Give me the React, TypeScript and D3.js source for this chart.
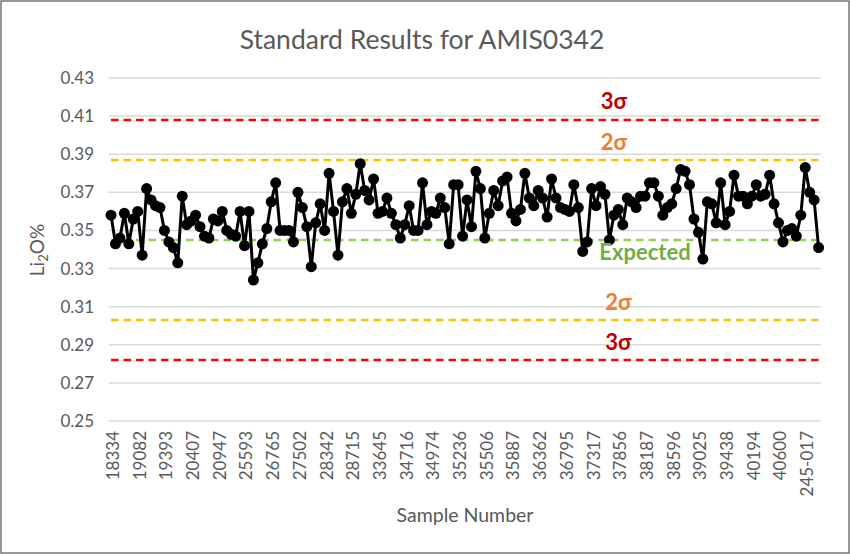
import * as d3 from 'd3';

// sample numbers shown on the category axis (every 6th sample)
const sampleLabels = [
  '18334', '19082', '19393', '20407', '20947', '25593', '26765', '27502', '28342',
  '28715', '33645', '34716', '34974', '35236', '35506', '35887', '36362', '36795',
  '37317', '37856', '38187', '38596', '39025', '39438', '40194', '40600', '245-017',
];
const labelEvery = 6;

// Li2O % results, in sample order
const results = [
  0.358, 0.343, 0.346, 0.359, 0.343, 0.356, 0.360, 0.337, 0.372, 0.366,
  0.363, 0.362, 0.350, 0.344, 0.341, 0.333, 0.368, 0.353, 0.355, 0.358,
  0.352, 0.347, 0.346, 0.356, 0.355, 0.360, 0.350, 0.348, 0.347, 0.360,
  0.342, 0.360, 0.324, 0.333, 0.343, 0.351, 0.365, 0.375, 0.350, 0.350,
  0.350, 0.344, 0.370, 0.362, 0.352, 0.331, 0.354, 0.364, 0.350, 0.380,
  0.360, 0.337, 0.365, 0.372, 0.359, 0.369, 0.385, 0.371, 0.366, 0.377,
  0.359, 0.360, 0.367, 0.359, 0.353, 0.346, 0.353, 0.363, 0.350, 0.350,
  0.375, 0.353, 0.360, 0.359, 0.367, 0.362, 0.343, 0.374, 0.374, 0.347,
  0.366, 0.352, 0.381, 0.372, 0.346, 0.359, 0.371, 0.363, 0.376, 0.378,
  0.359, 0.355, 0.361, 0.380, 0.367, 0.363, 0.371, 0.367, 0.357, 0.377,
  0.367, 0.362, 0.361, 0.360, 0.374, 0.362, 0.339, 0.344, 0.372, 0.363,
  0.373, 0.369, 0.345, 0.358, 0.361, 0.353, 0.367, 0.365, 0.362, 0.368,
  0.368, 0.375, 0.375, 0.368, 0.358, 0.362, 0.364, 0.372, 0.382, 0.381,
  0.374, 0.356, 0.349, 0.335, 0.365, 0.364, 0.354, 0.375, 0.353, 0.360,
  0.379, 0.368, 0.368, 0.364, 0.368, 0.374, 0.368, 0.369, 0.379, 0.364,
  0.354, 0.344, 0.350, 0.351, 0.347, 0.358, 0.383, 0.370, 0.366, 0.341,
];

const yTickValues = [0.25, 0.27, 0.29, 0.31, 0.33, 0.35, 0.37, 0.39, 0.41, 0.43];
const expectedValue = 0.345;
const sigma2Values = [0.387, 0.303];
const sigma3Values = [0.408, 0.282];

const W = 850;
const H = 554;
const plot = { left: 108.8, right: 820.8, top: 78, bottom: 421 };
const FONT = "Lato, 'Open Sans', sans-serif";
const GREY = '#595959';

export default function App() {
  const idx = d3.range(results.length);
  const x = d3.scaleBand<number>().domain(idx).range([plot.left, plot.right]);
  const cx = (i: number) => (x(i) ?? 0) + x.bandwidth() / 2;
  const y = d3.scaleLinear().domain([0.25, 0.43]).range([plot.bottom, plot.top]);

  const line = d3.line<number>().x((_, i) => cx(i)).y(d => y(d));
  const x0 = cx(0);
  const x1 = cx(results.length - 1);

  const refLine = (v: number, color: string, key: string) => (
    <line key={key} x1={x0} x2={x1} y1={y(v)} y2={y(v)} stroke={color}
      strokeWidth={2.5} strokeDasharray="7.5,5" />
  );

  return (
    <svg width={W} height={H} style={{ position: 'absolute', left: 0, top: 0, background: '#fff' }}
      fontFamily={FONT}>
      <rect x={1} y={1} width={W - 2} height={H - 2} fill="#fff" stroke="#767676" strokeWidth={1.5} />

      <text x={422} y={49} textAnchor="middle" fontSize={26.5} fill={GREY}>
        Standard Results for AMIS0342
      </text>

      {/* gridlines */}
      {yTickValues.map(t => (
        <line key={t} x1={plot.left} x2={plot.right} y1={y(t)} y2={y(t)} stroke="#d9d9d9" strokeWidth={1.5} />
      ))}

      {/* y tick labels */}
      {yTickValues.map(t => (
        <text key={'l' + t} x={94} y={y(t)} dy="0.35em" textAnchor="end" fontSize={17} fill={GREY}>
          {d3.format('.2f')(t)}
        </text>
      ))}

      {/* x tick labels */}
      {sampleLabels.map((lab, k) => {
        const i = k * labelEvery;
        return (
          <text key={lab} transform={`translate(${cx(i) + 2},${plot.bottom + 10}) rotate(-90)`}
            dy="0.35em" textAnchor="end" fontSize={17} fill={GREY}>
            {lab}
          </text>
        );
      })}

      {/* axis titles */}
      <text x={465} y={522} textAnchor="middle" fontSize={19.5} fill={GREY}>Sample Number</text>
      <text transform="translate(44,250) rotate(-90)" textAnchor="middle" fontSize={19} fill={GREY}>
        Li<tspan fontSize={13} dy={4}>2</tspan><tspan dy={-4}>O%</tspan>
      </text>

      {/* control limits */}
      {sigma3Values.map((v, k) => refLine(v, '#ff0000', 's3' + k))}
      {sigma2Values.map((v, k) => refLine(v, '#ffc000', 's2' + k))}
      {refLine(expectedValue, '#92d050', 'exp')}

      {/* results */}
      <path d={line(results) ?? ''} fill="none" stroke="#000" strokeWidth={3} strokeLinejoin="round" />
      {results.map((v, i) => (
        <circle key={i} cx={cx(i)} cy={y(v)} r={5.5} fill="#000" />
      ))}

      {/* limit labels */}
      <text x={cx(113)} y={y(sigma3Values[0]) - 11} textAnchor="middle" fontSize={22} fontWeight="bold" fill="#c00000">3σ</text>
      <text x={cx(113)} y={y(sigma2Values[0]) - 10} textAnchor="middle" fontSize={22} fontWeight="bold" fill="#ed7d31">2σ</text>
      <text x={cx(120)} y={y(expectedValue) + 20} textAnchor="middle" fontSize={22} fontWeight="bold" fill="#70ad47">Expected</text>
      <text x={cx(114)} y={y(sigma2Values[1]) - 10} textAnchor="middle" fontSize={22} fontWeight="bold" fill="#ed7d31">2σ</text>
      <text x={cx(114)} y={y(sigma3Values[1]) - 10} textAnchor="middle" fontSize={22} fontWeight="bold" fill="#c00000">3σ</text>
    </svg>
  );
}
